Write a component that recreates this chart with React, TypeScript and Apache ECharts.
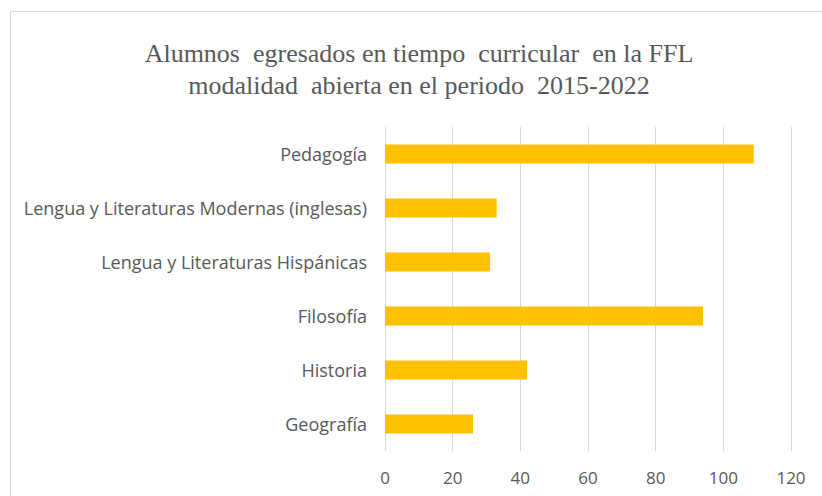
import React, { useEffect, useRef } from "react";
import * as echarts from "echarts";

const categories = [
  "Geografía",
  "Historia",
  "Filosofía",
  "Lengua y Literaturas Hispánicas",
  "Lengua y Literaturas Modernas (inglesas)",
  "Pedagogía",
];
const values = [26, 42, 94, 31, 33, 109];
const titleText = "Alumnos  egresados en tiempo  curricular  en la FFL\nmodalidad  abierta en el periodo  2015-2022";
const axisMin = 0;
const axisMax = 120;
const axisInterval = 20;

export default function App() {
  const ref = useRef<HTMLDivElement>(null);
  useEffect(() => {
    if (!ref.current) return;
    const chart = echarts.init(ref.current, null, { renderer: "svg" });
    chart.setOption({
      animation: false,
      backgroundColor: "#ffffff",
      title: {
        text: titleText,
        left: 419,
        top: 37,
        padding: 0,
        textAlign: "center",
        textStyle: {
          fontFamily: "Liberation Serif",
          fontWeight: "normal",
          fontSize: 26,
          lineHeight: 32,
          color: "#595959",
        },
      },
      graphic: [
        {
          type: "rect",
          silent: true,
          z: -10,
          shape: { x: 10.5, y: 11.5, width: 830, height: 500 },
          style: { fill: "none", stroke: "#d9d9d9", lineWidth: 1 },
        },
      ],
      grid: { left: 385, right: 31, top: 127, bottom: 45, containLabel: false },
      xAxis: {
        type: "value",
        min: axisMin,
        max: axisMax,
        interval: axisInterval,
        axisLine: { show: false },
        axisTick: { show: false },
        splitLine: { show: true, lineStyle: { color: "#d9d9d9", width: 1 } },
        axisLabel: {
          color: "#595959",
          fontFamily: "Open Sans",
          fontSize: 17,
          margin: 18,
        },
      },
      yAxis: {
        type: "category",
        data: categories,
        axisLine: { show: false },
        axisTick: { show: false },
        axisLabel: {
          color: "#595959",
          fontFamily: "Open Sans",
          fontSize: 18,
          margin: 18,
        },
      },
      series: [
        {
          type: "bar",
          data: values,
          barWidth: "35%",
          itemStyle: { color: "#FFC000" },
        },
      ],
    });
    return () => chart.dispose();
  }, []);
  return (
    <div
      ref={ref}
      style={{ position: "fixed", left: 0, top: 0, width: 822, height: 496 }}
    />
  );
}
